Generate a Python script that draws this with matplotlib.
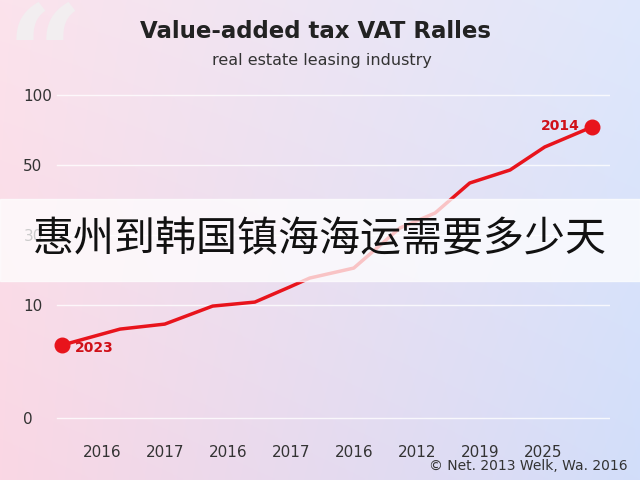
import numpy as np
import matplotlib
matplotlib.use("Agg")
import matplotlib.pyplot as plt

x_pos = [-0.63, 0.29, 1.0, 1.76, 2.43, 2.98, 3.3, 4.0, 4.33, 4.73, 5.29, 5.84, 6.48, 7.03, 7.78]
levels = [73, 89, 94, 112, 116, 131, 140, 150, 168, 190, 205, 235, 248, 271, 291]
x_ticks = [0, 1, 2, 3, 4, 5, 6, 7]
x_labels = ["2016", "2017", "2016", "2017", "2016", "2012", "2019", "2025"]
y_ticks = [0, 113, 183, 253, 323]
y_labels = ["0", "10", "30", "50", "100"]

fig = plt.figure(figsize=(6.4, 4.8), dpi=100)
bg = fig.add_axes([0, 0, 1, 1])
w = np.linspace(0, 1, 256)
h = np.linspace(0, 1, 192)
W, H = np.meshgrid(w, h)
left = np.array([250, 215, 228]) / 255
right = np.array([210, 222, 250]) / 255
img = left[None, None, :] * (1 - W[..., None]) + right[None, None, :] * W[..., None]
img = img * (1 - 0.3 * H[..., None]) + 0.3 * H[..., None]
bg.imshow(img, extent=[0, 1, 0, 1], aspect="auto", origin="lower")
bg.set_axis_off()
bg.text(0.01, 1.0, "\u201c", fontsize=95, color="#f2eef0", va="top", ha="left", fontweight="bold",
        family="DejaVu Serif")
bg.text(0.493, 0.935, "Value-added tax VAT Ralles", fontsize=16.5, fontweight="bold", ha="center", va="center", color="#222")
bg.text(0.503, 0.875, "real estate leasing industry", fontsize=11.5, ha="center", va="center", color="#333")
bg.text(0.98, 0.03, "© Net. 2013 Welk, Wa. 2016", fontsize=10, ha="right", va="center", color="#333")

ax = fig.add_axes([0.0625, 0.083, 0.89, 0.74])
ax.patch.set_alpha(0)
ax.plot(x_pos, levels, color="#e8141c", lw=2.5, zorder=3)
ax.scatter([x_pos[0], x_pos[-1]], [levels[0], levels[-1]], s=110, color="#e8141c", zorder=4)
ax.text(x_pos[0] + 0.2, levels[0] - 3, "2023", color="#d01018", fontsize=10, fontweight="bold", va="center")
ax.text(x_pos[-1] - 0.2, levels[-1] + 1, "2014", color="#d01018", fontsize=10, fontweight="bold", va="center", ha="right")
ax.set_xlim(-0.98, 8.06)
ax.set_ylim(-22, 333)
ax.set_xticks(x_ticks, x_labels)
ax.set_yticks(y_ticks, y_labels)
for y in y_ticks:
    ax.axhline(y, xmin=0.03, color="white", lw=1, alpha=0.8, zorder=1)
for s in ax.spines.values():
    s.set_visible(False)
ax.tick_params(length=0, labelsize=11, colors="#333")
ax.tick_params(axis="y", pad=12)
for t in ax.get_yticklabels():
    t.set_ha("left")

band = fig.add_axes([0, 0, 1, 1])
band.set_axis_off()
band.patch.set_alpha(0)
band.add_patch(plt.Rectangle((0, 0.415), 1, 0.17, color="white", alpha=0.75))
band.text(0.5, 0.50, "惠州到韩国镇海海运需要多少天", fontsize=29.5, ha="center", va="center",
          family=["Noto Sans CJK SC", "DejaVu Sans"], color="#111")
band.set_xlim(0, 1); band.set_ylim(0, 1)
fig.savefig("out.png", dpi=100)
